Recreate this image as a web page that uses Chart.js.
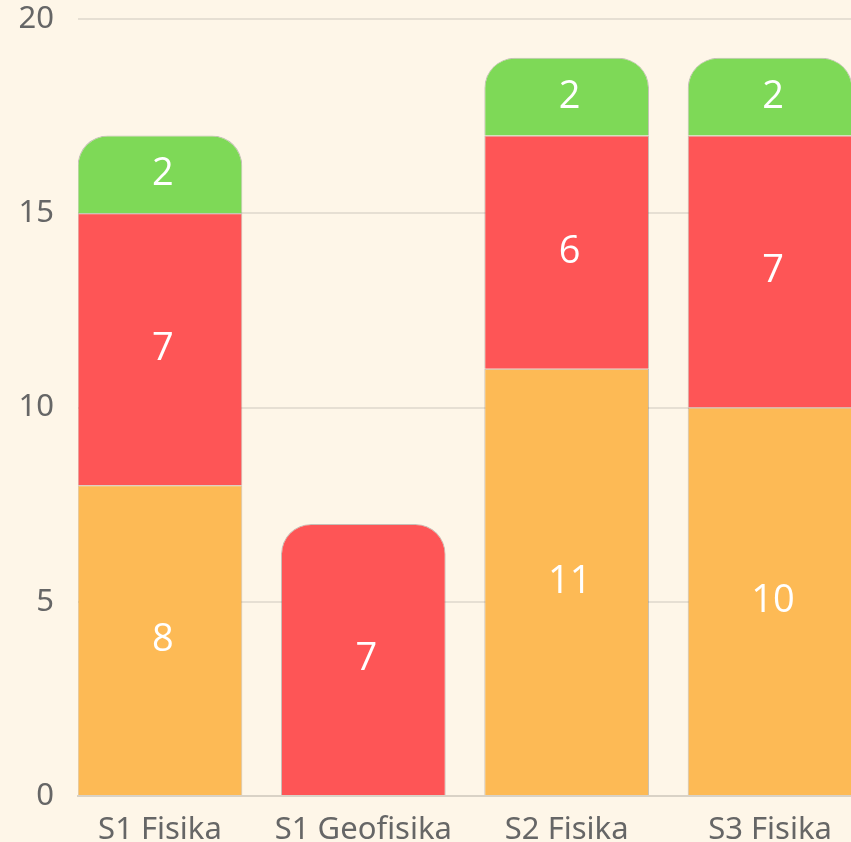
<!DOCTYPE html>
<html>
<head>
<meta charset="utf-8">
<script src="https://cdn.jsdelivr.net/npm/chart.js@4.4.1/dist/chart.umd.min.js"></script>
<style>
  html, body { margin: 0; padding: 0; background: #fef6e8; overflow: hidden; }
  #wrap { position: relative; width: 851px; height: 842px; }
</style>
</head>
<body>
<div id="wrap"><canvas id="chart"></canvas></div>
<script>
const categories = ["S1 Fisika", "S1 Geofisika", "S2 Fisika", "S3 Fisika"];
const orangeValues = [8, null, 11, 10];
const redValues = [7, 7, 6, 7];
const greenValues = [2, null, 2, 2];
const yTicks = [0, 5, 10, 15, 20];

const points = (values) => values.map((v, i) => ({ x: i, y: v }));

const barLabels = {
  id: "barLabels",
  afterDatasetsDraw(chart) {
    const ctx = chart.ctx;
    ctx.save();
    ctx.fillStyle = "#ffffff";
    ctx.font = "38px 'Open Sans', sans-serif";
    ctx.textAlign = "center";
    ctx.textBaseline = "middle";
    chart.data.datasets.forEach((ds, di) => {
      const meta = chart.getDatasetMeta(di);
      meta.data.forEach((bar, i) => {
        const v = ds.data[i].y;
        if (v == null || v === 0) return;
        const { x, y, base } = bar.getProps(["x", "y", "base"], true);
        ctx.fillText(String(v), x + 3, (y + base) / 2);
      });
    });
    ctx.restore();
  }
};

const common = {
  borderWidth: 1,
  borderColor: "rgba(110,110,110,0.4)",
  borderRadius: 30,
  borderSkipped: "start",
  barPercentage: 0.9,
  categoryPercentage: 0.9
};

new Chart(document.getElementById("chart"), {
  type: "bar",
  data: {
    datasets: [
      Object.assign({ label: "orange", data: points(orangeValues), backgroundColor: "#fdba55" }, common),
      Object.assign({ label: "red", data: points(redValues), backgroundColor: "#fe5556" }, common),
      Object.assign({ label: "green", data: points(greenValues), backgroundColor: "#7ed957" }, common)
    ]
  },
  options: {
    responsive: true,
    maintainAspectRatio: false,
    animation: false,
    layout: { padding: { top: 19, right: 0, bottom: 0, left: 0 } },
    plugins: { legend: { display: false }, tooltip: { enabled: false } },
    scales: {
      x: {
        type: "linear",
        stacked: true,
        offset: false,
        min: -0.403,
        max: 3.398,
        afterBuildTicks: (scale) => { scale.ticks = categories.map((c, i) => ({ value: i })); },
        afterFit: (scale) => { scale.height = 46; scale.paddingLeft = 0; scale.paddingRight = 0; },
        grid: { display: false },
        border: { display: true, color: "#d9d2c6", width: 2 },
        ticks: {
          color: "#666666",
          padding: 8,
          maxRotation: 0,
          autoSkip: false,
          font: { family: "'Noto Sans', sans-serif", size: 31 },
          callback: (v) => categories[v]
        }
      },
      y: {
        stacked: true,
        min: 0,
        max: 20,
        afterBuildTicks: (scale) => { scale.ticks = yTicks.map((v) => ({ value: v })); },
        afterFit: (scale) => { scale.width = 78; scale.paddingTop = 0; scale.paddingBottom = 0; },
        grid: { color: "#e6dfd3", lineWidth: 2, drawTicks: false },
        border: { display: false },
        ticks: {
          color: "#666666",
          padding: 24,
          font: { family: "'Noto Sans', sans-serif", size: 31 }
        }
      }
    }
  },
  plugins: [barLabels]
});
</script>
</body>
</html>
